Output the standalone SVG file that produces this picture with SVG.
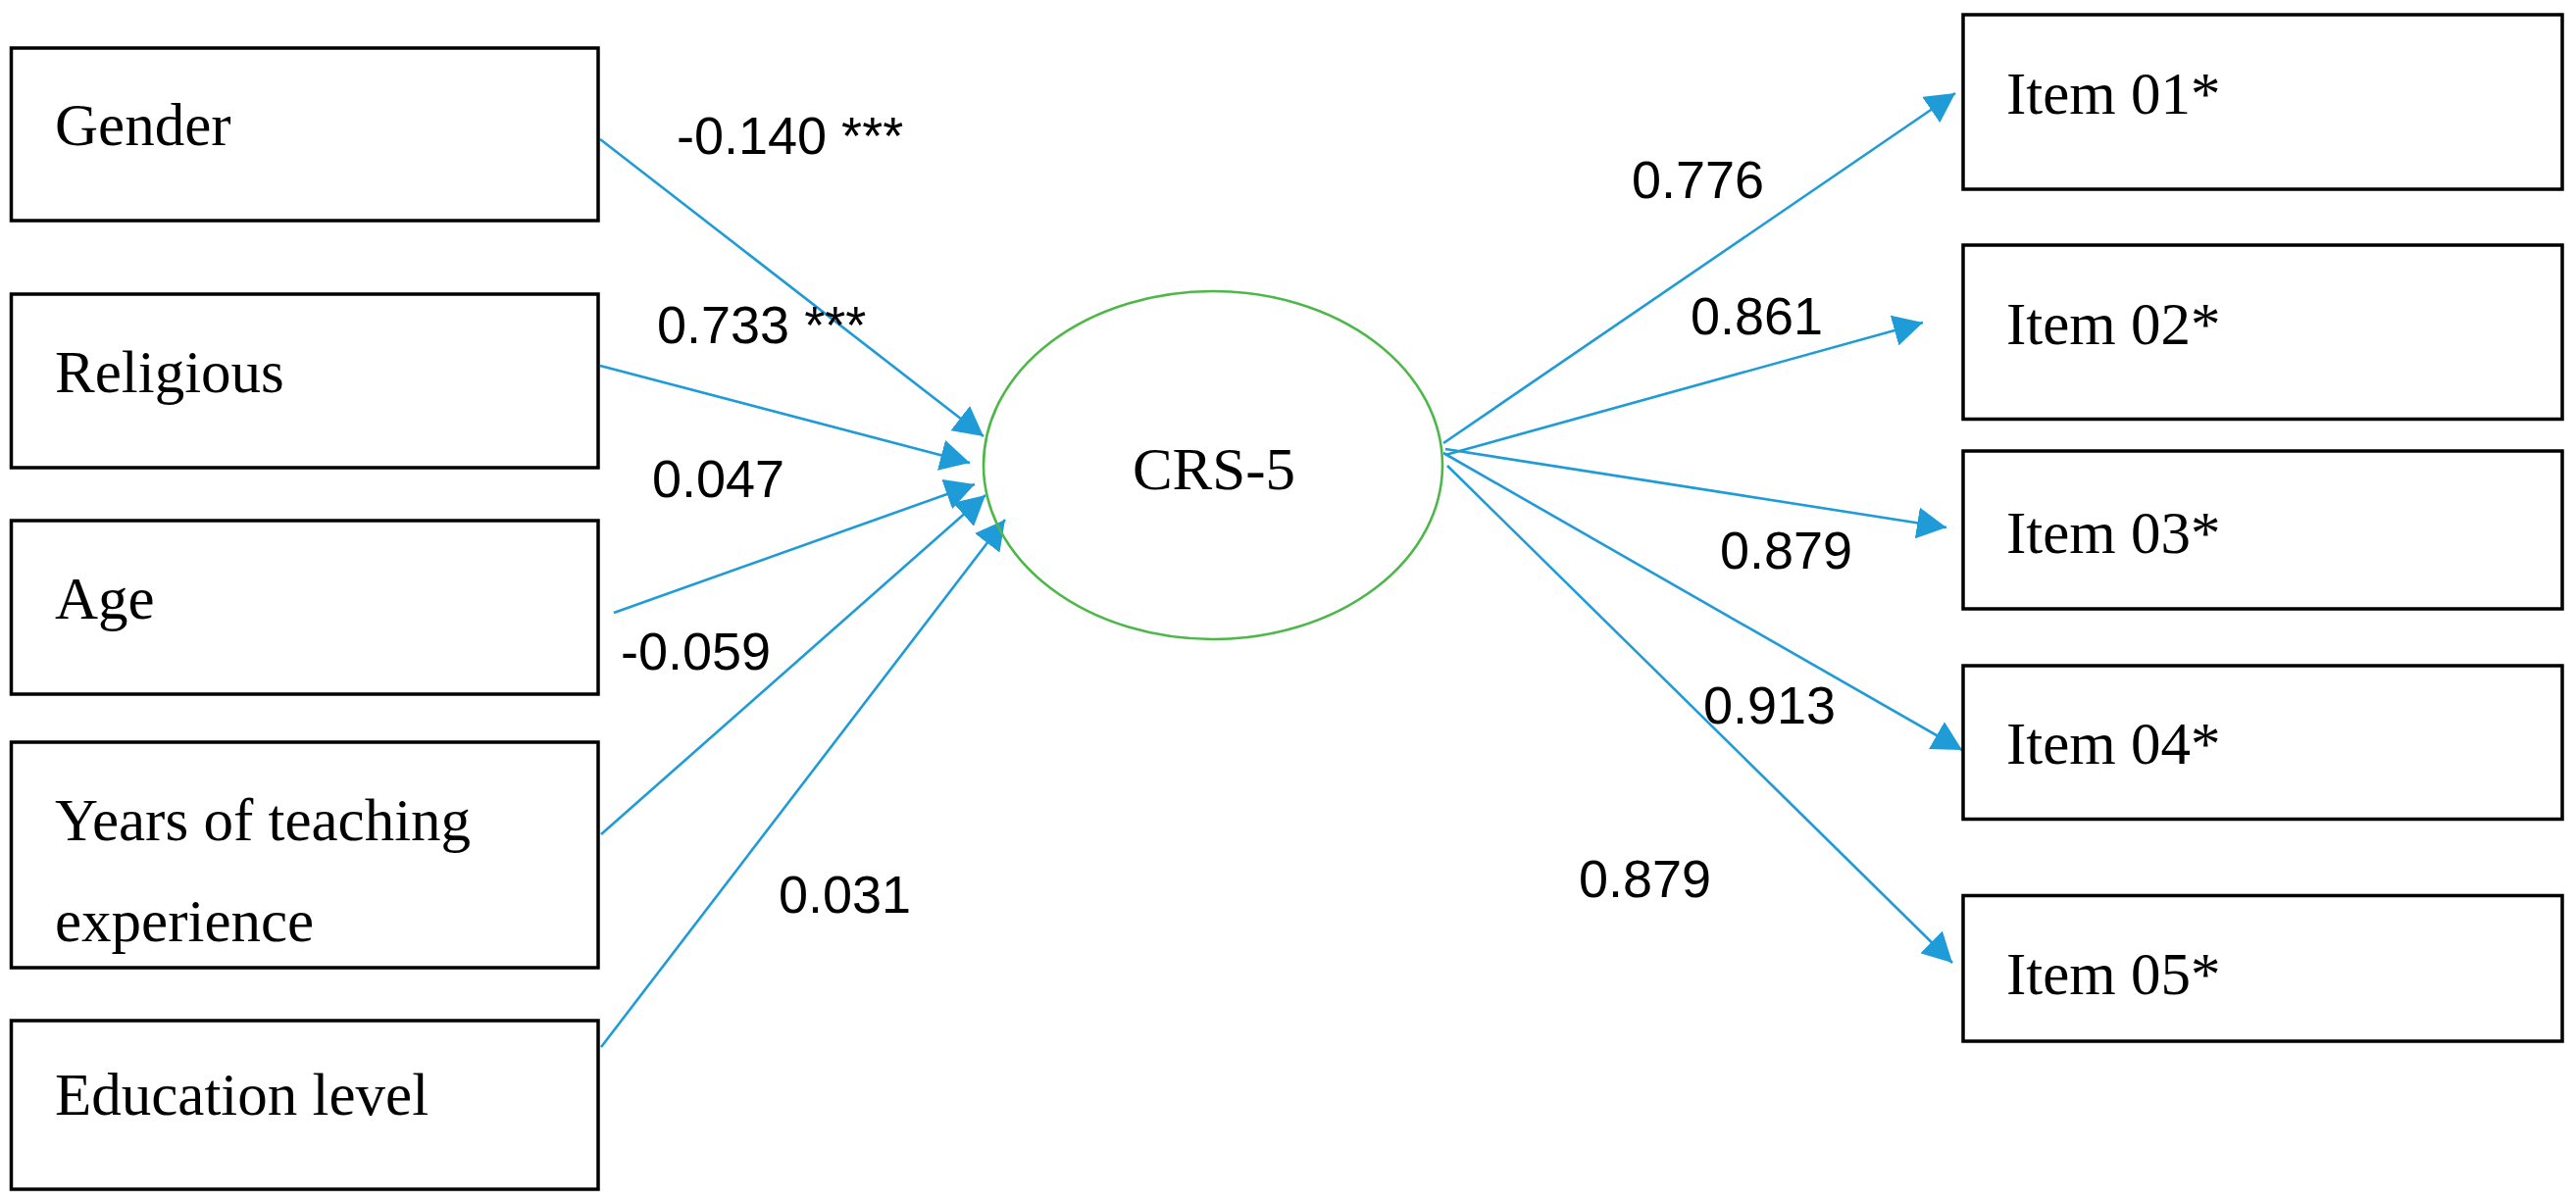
<svg xmlns="http://www.w3.org/2000/svg" width="2627" height="1226" viewBox="0 0 2627 1226">
<style>
.box{fill:#fff;stroke:#000;stroke-width:3.5}
.lbl{font-family:"Liberation Serif","Times New Roman",serif;font-size:61px;fill:#000}
.num{font-family:"Liberation Sans",Arial,sans-serif;font-size:54px;fill:#000}
.conn{stroke:#1f9bd7;stroke-width:2.6;fill:none;marker-end:url(#ah)}
</style>
<defs>
<marker id="ah" markerUnits="userSpaceOnUse" markerWidth="30" markerHeight="32" refX="30" refY="16" orient="auto">
<path d="M0,0 L30,16 L0,32 Z" fill="#1f9bd7"/>
</marker>
</defs>
<rect width="2627" height="1226" fill="#fff"/>
<g id="connectors">
<line class="conn" x1="612" y1="142" x2="1003" y2="445"/>
<line class="conn" x1="612" y1="373" x2="989" y2="472"/>
<line class="conn" x1="626" y1="625" x2="994" y2="494"/>
<line class="conn" x1="613" y1="851" x2="1005" y2="505"/>
<line class="conn" x1="613" y1="1068" x2="1025" y2="530"/>
<line class="conn" x1="1472" y1="452" x2="1994" y2="95"/>
<line class="conn" x1="1474" y1="464" x2="1961" y2="329"/>
<line class="conn" x1="1474" y1="458" x2="1985" y2="538"/>
<line class="conn" x1="1472" y1="462" x2="2001" y2="765"/>
<line class="conn" x1="1476" y1="475" x2="1991" y2="982"/>
</g>
<g id="labels">
<text class="num" x="690" y="157">-0.140 ***</text>
<text class="num" x="670" y="350">0.733 ***</text>
<text class="num" x="665" y="507">0.047</text>
<text class="num" x="633" y="683">-0.059</text>
<text class="num" x="794" y="931">0.031</text>
<text class="num" x="1664" y="202">0.776</text>
<text class="num" x="1724" y="341">0.861</text>
<text class="num" x="1754" y="580">0.879</text>
<text class="num" x="1737" y="738">0.913</text>
<text class="num" x="1610" y="915">0.879</text>
</g>
<g id="gender"><rect class="box" x="11.5" y="49" width="598.5" height="176"/><text class="lbl" x="56" y="148">Gender</text></g>
<g id="religious"><rect class="box" x="11.5" y="300" width="598.5" height="177"/><text class="lbl" x="56" y="400">Religious</text></g>
<g id="age"><rect class="box" x="11.5" y="531" width="598.5" height="177"/><text class="lbl" x="56" y="631">Age</text></g>
<g id="years"><rect class="box" x="11.5" y="757" width="598.5" height="230"/><text class="lbl" x="56" y="857">Years of teaching</text><text class="lbl" x="56" y="960">experience</text></g>
<g id="education"><rect class="box" x="11.5" y="1041" width="598.5" height="172"/><text class="lbl" x="56" y="1137">Education level</text></g>
<g id="crs5"><ellipse cx="1237" cy="474.5" rx="234" ry="177.5" fill="none" stroke="#4db848" stroke-width="2.6"/><text class="lbl" x="1238" y="499" text-anchor="middle">CRS-5</text></g>
<g id="item01"><rect class="box" x="2002" y="15" width="611" height="178"/><text class="lbl" x="2046" y="116">Item 01*</text></g>
<g id="item02"><rect class="box" x="2002" y="250" width="611" height="177.5"/><text class="lbl" x="2046" y="351">Item 02*</text></g>
<g id="item03"><rect class="box" x="2002" y="460" width="611" height="161"/><text class="lbl" x="2046" y="564">Item 03*</text></g>
<g id="item04"><rect class="box" x="2002" y="679" width="611" height="156.5"/><text class="lbl" x="2046" y="779">Item 04*</text></g>
<g id="item05"><rect class="box" x="2002" y="913.5" width="611" height="148.5"/><text class="lbl" x="2046" y="1014">Item 05*</text></g>
</svg>
